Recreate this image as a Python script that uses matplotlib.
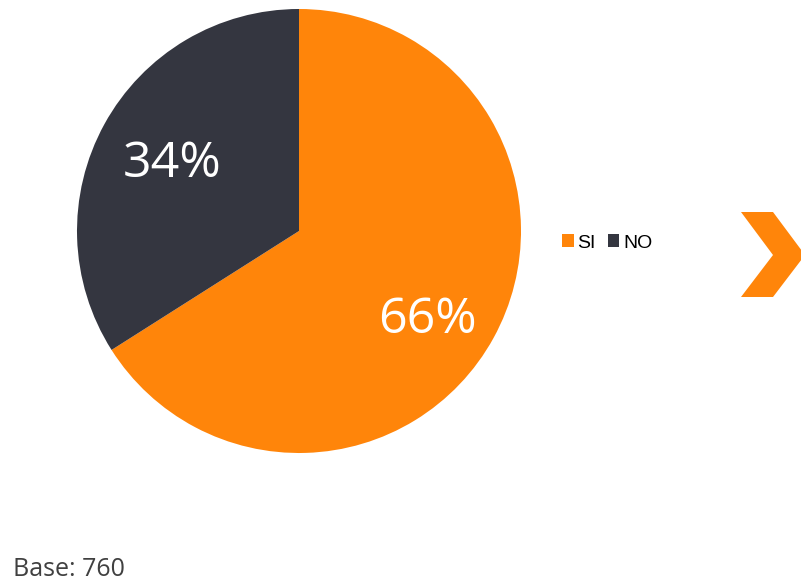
import matplotlib.pyplot as plt
from matplotlib.patches import Patch, Polygon

# data
labels = ['SI', 'NO']
values = [66, 34]
colors = ['#FF850A', '#343640']
base_text = 'Base: 760'

W, H = 801, 582
fig = plt.figure(figsize=(W / 100, H / 100), dpi=100)

# pie: center (299, 231) px from top, radius ~222 px
cx, cy, r = 299, 231, 222
ax = fig.add_axes([(cx - r) / W, (H - cy - r) / H, 2 * r / W, 2 * r / H])
wedges, texts, autotexts = ax.pie(values, colors=colors, startangle=90, counterclock=False,
                                  autopct='%d%%', pctdistance=0.67, radius=1,
                                  wedgeprops=dict(linewidth=0),
                                  textprops=dict(color='white', fontsize=36, family='Open Sans'))
# nudge the percent labels to where the reference has them
label_pos = [(0.58, -0.40), (-0.57, 0.30)]
for t, p in zip(autotexts, label_pos):
    t.set_position(p)
ax.set_xlim(-1, 1)
ax.set_ylim(-1, 1)
ax.set_aspect('equal')

# legend
handles = [Patch(facecolor=c, edgecolor='none') for c in colors]
fig.legend(handles, labels, loc='center left', bbox_to_anchor=(562 / W, 1 - 243 / H),
           ncol=2, frameon=False, handlelength=0.6, handleheight=0.6,
           handletextpad=0.2, columnspacing=0.6, borderpad=0, borderaxespad=0,
           prop=dict(family='Liberation Sans', size=14))

# chevron decoration
pts = [(741, 212), (773, 212), (805, 255), (773, 297), (741, 297), (773, 255)]
fig.patches.append(Polygon([(x / W, 1 - y / H) for x, y in pts], closed=True,
                           transform=fig.transFigure, facecolor='#FF850A', edgecolor='none'))

fig.text(13 / W, 1 - 569 / H, base_text, fontsize=18, family='Open Sans',
         color='#404040', va='center', ha='left')

plt.savefig('out.png', dpi=100)
